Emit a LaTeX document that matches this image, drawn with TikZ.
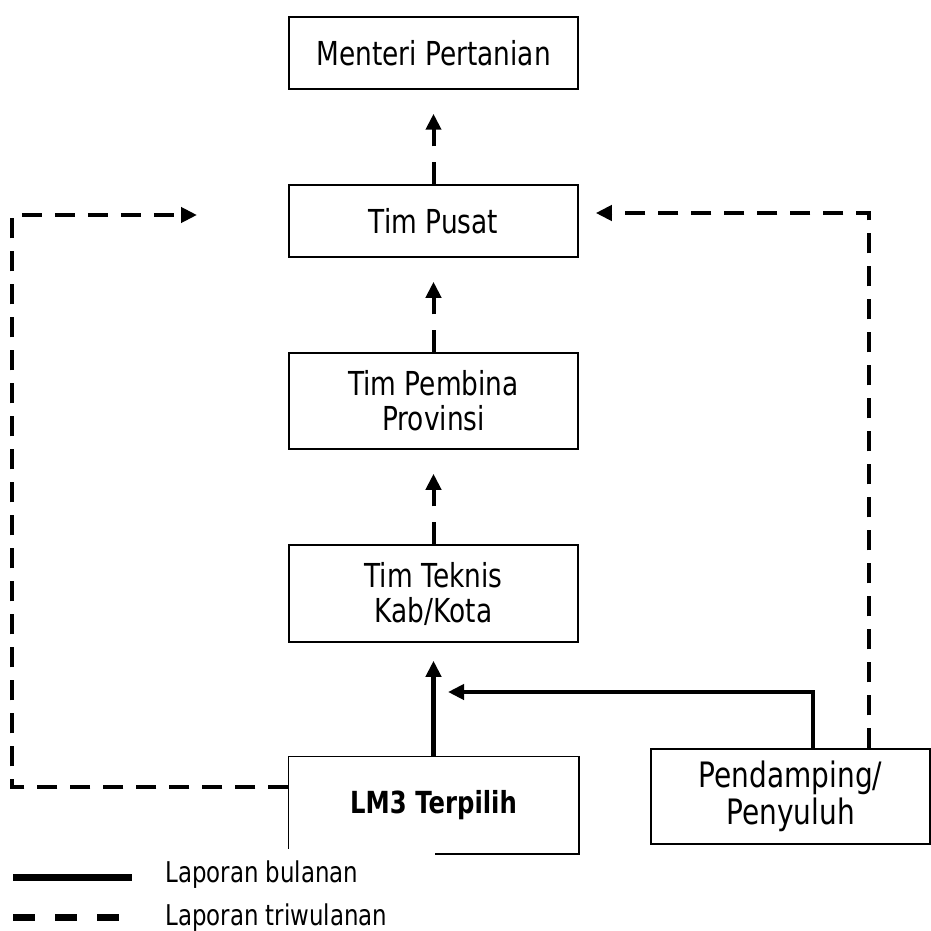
\documentclass[tikz,border=0pt]{standalone}
\usepackage{fontspec}
\setmainfont{DejaVu Sans}[FakeStretch=0.8]
\usetikzlibrary{arrows.meta}

\begin{document}
\begin{tikzpicture}[x=0.5pt,y=-0.5pt,
	box/.style={draw,line width=0.75pt,minimum width=144.5pt,align=center,inner sep=0pt,
		font=\fontsize{16.5}{17.5}\selectfont},
	outline/.style={line width=0.75pt},
	monthly/.style={line width=2.25pt,-{Triangle[length=8pt,width=7.5pt]}},
	quarterly/.style={line width=2pt,dash pattern=on 10pt off 6.5pt,-{Triangle[length=8pt,width=7.5pt]}},
	upward/.style={line width=2pt,dash pattern=on 11pt off 8pt,-{Triangle[length=8pt,width=7.5pt]},shorten >=12pt},
	legend/.style={anchor=west,inner sep=0pt,font=\fontsize{14.3}{16}\selectfont}]
	\useasboundingbox (0,0) rectangle (931,931);

	% boxes
	\node[box,minimum height=36pt]		(menteri)	at (433.5,53)	{Menteri Pertanian};
	\node[box,minimum height=36pt]		(pusat)		at (433.5,221)	{Tim Pusat};
	\node[box,minimum height=48pt]		(pembina)	at (433.5,401)	{Tim Pembina\\Provinsi};
	\node[box,minimum height=48.5pt]	(teknis)	at (433.5,593.5)	{Tim Teknis\\Kab/Kota};
	\node[box,draw=none,minimum height=48pt,font=\fontsize{15.2}{17}\selectfont\bfseries]
						(lm3)		at (433.5,805)	{LM3 Terpilih};
	\node[box,minimum width=139.5pt,minimum height=47.5pt,font=\fontsize{17.5}{18.5}\selectfont]
						(pendamping)	at (790.5,796.5)	{Pendamping/\\Penyuluh};
	\draw[outline] ([yshift=2.5pt]lm3.south west) -- (lm3.north west) -- (lm3.north east)
		-- (lm3.south east) -- ([xshift=-72pt]lm3.south east);

	\coordinate (monthin)	at (448,692);
	\coordinate (leftcorner)	at (12,215);
	\coordinate (lefttip)	at (197,215);

	% reports
	\draw[upward] (teknis.north) -- (pembina.south);
	\draw[upward] (pembina.north) -- (pusat.south);
	\draw[upward] (pusat.north) -- (menteri.south);
	\draw[monthly,shorten >=9pt] (lm3.north) -- (teknis.south);
	\draw[monthly] ([xshift=11.25pt]pendamping.north) |- (monthin);
	\draw[quarterly,shorten >=8.5pt] ([xshift=39.25pt]pendamping.north) |- ([yshift=4pt]pusat.east);
	\draw[quarterly] ([yshift=9pt]lm3.west) -| (leftcorner) -- (lefttip);

	% legend
	\draw[line width=3.5pt] (13,877) -- (132,877);
	\node[legend] (bulanan) at (165,875) {Laporan bulanan};
	\draw[line width=3.5pt,dash pattern=on 11pt off 10pt] (13,917) -- (120,917);
	\node[legend] (triwulanan) at (165,918) {Laporan triwulanan};
\end{tikzpicture}
\end{document}
